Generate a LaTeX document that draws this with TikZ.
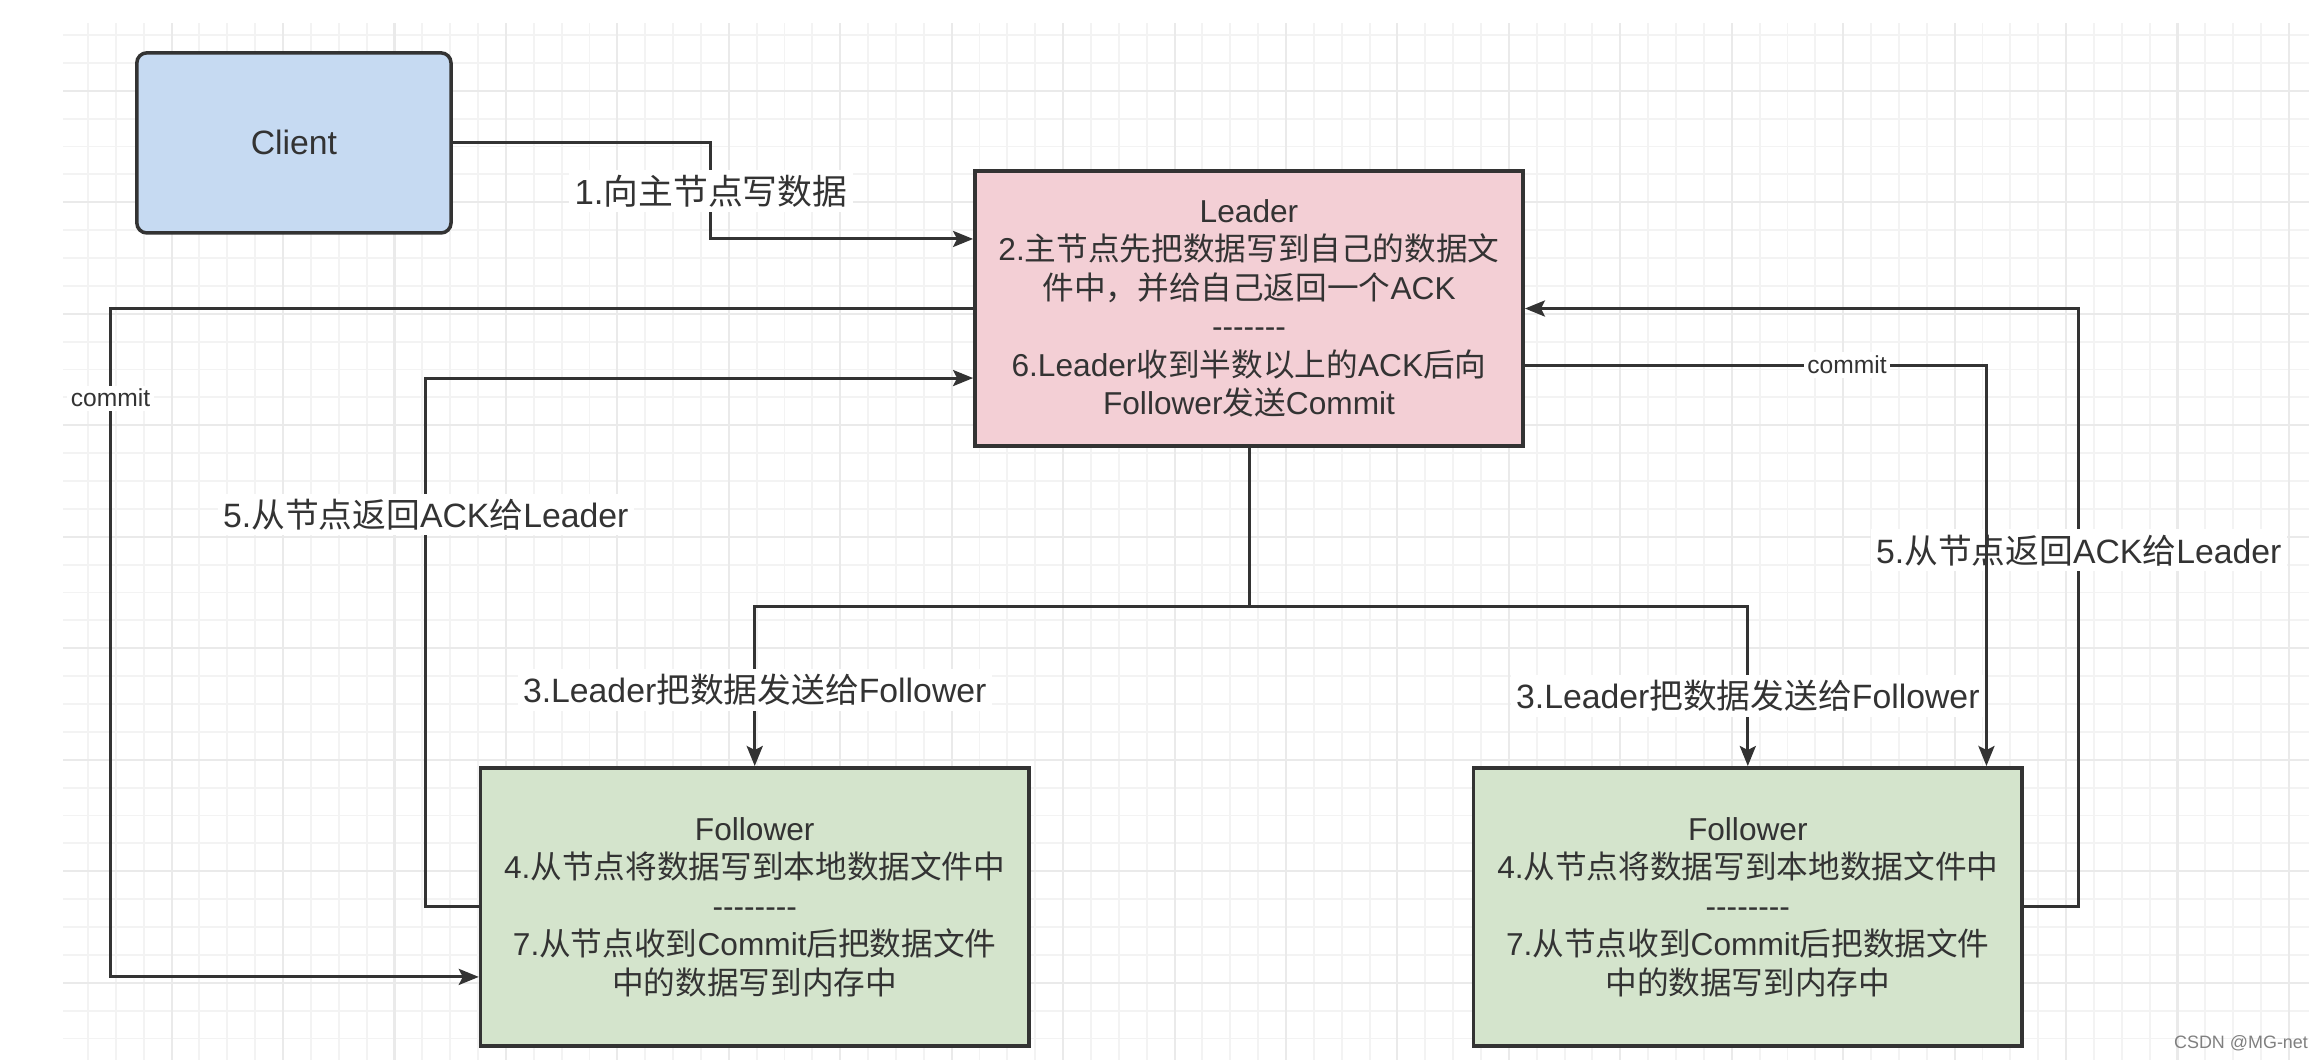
\documentclass[tikz,border=0pt]{standalone}
\usepackage{fontspec}
\setmainfont{Liberation Sans}
\newfontfamily\zh{Noto Sans CJK SC}
\usetikzlibrary{positioning,arrows.meta}

\definecolor{clientblue}{HTML}{C6DAF2}
\definecolor{leaderpink}{HTML}{F3CFD5}
\definecolor{followergreen}{HTML}{D4E4CC}
\definecolor{inkgray}{HTML}{333333}
\definecolor{gridminor}{HTML}{F3F3F3}
\definecolor{gridmajor}{HTML}{EAEAEA}

\newcommand{\cn}[1]{{\zh #1}}
\newcommand{\dashrow}[1]{\foreach \i in {1,...,#1}{\mbox{-}}}

\begin{document}
\begin{tikzpicture}[
  x=0.01cm, y=-0.01cm,
  box/.style={draw=inkgray, line width=1pt, align=center, text=inkgray,
    font=\fontsize{9pt}{10.95pt}\selectfont, minimum width=5.48cm, minimum height=2.78cm},
  arrow/.style={-{Stealth[length=0.2cm, width=0.16cm, inset=0.04cm]}, line width=0.85pt, draw=inkgray},
  lbl/.style={fill=white, inner sep=1.5pt, text=inkgray, font=\fontsize{9.6pt}{11pt}\selectfont},
  commitlbl/.style={fill=white, inner sep=1pt, text=inkgray, font=\fontsize{7pt}{8pt}\selectfont},
  gridline/.style={draw=gridminor, line width=0.55pt},
  gridbold/.style={draw=gridmajor, line width=0.6pt}
]
\useasboundingbox[fill=white] (0,0) rectangle (2324,1060);

\foreach \k in {0,...,79} \draw[gridline] ({88+27.86*\k},23) -- ({88+27.86*\k},1060);
\foreach \k in {0,...,36} \draw[gridline] (63,{35+27.875*\k}) -- (2309,{35+27.875*\k});
\foreach \k in {3,7,...,79} \draw[gridbold] ({88+27.86*\k},23) -- ({88+27.86*\k},1060);
\foreach \k in {2,6,...,34} \draw[gridbold] (63,{35+27.875*\k}) -- (2309,{35+27.875*\k});

\node[box, fill=leaderpink, minimum height=2.75cm] (leader) at (1249,308.5)
  {Leader\\2.\cn{主节点先把数据写到自己的数据文}\\\cn{件中，并给自己返回一个}ACK\\\dashrow{7}\\6.Leader\cn{收到半数以上的}ACK\cn{后向}\\Follower\cn{发送}Commit};
\node[box, fill=clientblue, rounded corners=0.1cm, minimum width=3.14cm, minimum height=1.8cm,
  font=\fontsize{9.6pt}{11pt}\selectfont, left=5.2cm of leader, yshift=1.655cm] (client) {Client};
\node[box, fill=followergreen, below=3.18cm of leader, xshift=-4.94cm] (fol1)
  {Follower\\4.\cn{从节点将数据写到本地数据文件中}\\\dashrow{8}\\7.\cn{从节点收到}Commit\cn{后把数据文件}\\\cn{中的数据写到内存中}};
\node[box, fill=followergreen, right=4.41cm of fol1] (fol2)
  {Follower\\4.\cn{从节点将数据写到本地数据文件中}\\\dashrow{8}\\7.\cn{从节点收到}Commit\cn{后把数据文件}\\\cn{中的数据写到内存中}};
\node[text=gray, font=\fontsize{5.1pt}{6pt}\selectfont] (mark) at (2241,1043) {CSDN @MG-net};

\draw[arrow] (client.east) -- ++(2.58cm,0) |- node[lbl, pos=0.25, font=\fontsize{9.9pt}{12pt}\selectfont] {1.\cn{向主节点写数据}} ([yshift=0.695cm]leader.west);
\draw[arrow] (leader.south) -- ++(0,-1.59cm) -| node[lbl, pos=0.76] {3.Leader\cn{把数据发送给}Follower} (fol1.north);
\draw[arrow] (leader.south) -- ++(0,-1.59cm) -| node[lbl, pos=0.78] {3.Leader\cn{把数据发送给}Follower} (fol2.north);
\draw[arrow] (fol1.west) -- ++(-0.53cm,0) |- node[lbl, pos=0.371] {5.\cn{从节点返回}ACK\cn{给}Leader} ([yshift=-0.695cm]leader.west);
\draw[arrow] (leader.west) -- ++(-8.62cm,0) |- node[commitlbl, pos=0.067] {commit} ([yshift=-0.7cm]fol1.west);
\draw[arrow] (fol2.east) -- ++(0.55cm,0) |- node[lbl, pos=0.298] {5.\cn{从节点返回}ACK\cn{给}Leader} (leader.east);
\draw[arrow] ([yshift=-0.565cm]leader.east) -| node[commitlbl, pos=0.349] {commit} ([xshift=2.385cm]fol2.north);
\end{tikzpicture}
\end{document}
